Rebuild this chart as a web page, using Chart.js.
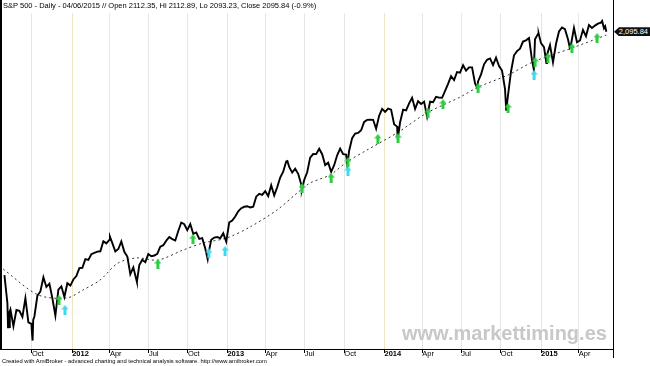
<!DOCTYPE html>
<html><head><meta charset="utf-8">
<script src="https://cdn.jsdelivr.net/npm/chart.js@4.4.1/dist/chart.umd.min.js"></script>
<style>
html,body{margin:0;padding:0;background:#fff;}
#wrap{position:relative;width:650px;height:366px;overflow:hidden;background:#fff;}
canvas{position:absolute;left:0;top:0;}
.t{position:absolute;white-space:nowrap;font-family:"Liberation Sans",Arial,sans-serif;color:#000;line-height:1;}
#lbl{position:absolute;left:614px;width:36px;height:9px;background:#111;color:#fff;font-family:"Liberation Sans",Arial,sans-serif;font-size:7.5px;line-height:9px;text-align:right;padding-right:2px;box-sizing:border-box;clip-path:polygon(0 50%,5px 0,100% 0,100% 100%,5px 100%);}
</style></head><body>
<div id="wrap">
<canvas id="c" width="650" height="366"></canvas>
<div class="t" id="title" style="left:3px;top:2px;font-size:7.5px;">S&amp;P 500 - Daily - 04/06/2015 // Open 2112.35, Hi 2112.89, Lo 2093.23, Close 2095.84 (-0.9%)</div>
<div class="t" id="wm" style="left:402px;top:323px;font-size:20px;font-weight:bold;color:#c8c8c8;">www.markettiming.es</div>
<div class="t" id="foot" style="left:2px;top:359px;font-size:5.8px;">Created with AmiBroker - advanced charting and technical analysis software. http://www.amibroker.com</div>
<div id="lbl">2,095.84</div>
</div>
<script>
// Weekly closes (index = week number, week 0 = week ending 29 Jul 2011)
const weeklyClose = [
1292.3,1199.4,1178.8,1123.5,1176.8,1174.0,1154.2,1216.0,1136.4,1131.4,
1155.5,1224.6,1238.3,1285.1,1253.2,1263.9,1215.7,1158.7,1244.3,1255.2,
1219.7,1265.3,1257.6,1277.8,1289.1,1315.4,1316.3,1344.9,1342.6,1361.2,
1365.7,1369.6,1370.9,1404.2,1397.1,1408.5,1398.1,1370.3,1378.5,1403.4,
1369.1,1353.4,1295.2,1317.8,1278.0,1325.7,1342.8,1335.0,1362.2,1354.7,
1356.8,1362.7,1386.0,1391.0,1405.9,1418.2,1411.1,1406.6,1437.9,1465.8,
1460.2,1440.7,1460.9,1428.6,1433.2,1411.9,1414.2,1379.9,1359.9,1409.2,
1416.2,1418.1,1413.6,1430.2,1402.4,1466.5,1472.1,1486.0,1503.0,1513.2,
1517.9,1519.8,1515.6,1518.2,1551.2,1560.7,1556.9,1569.2,1553.3,1588.9,
1555.3,1582.2,1614.4,1633.7,1667.5,1649.6,1630.7,1643.4,1626.7,1592.4,
1606.3,1631.9,1680.2,1692.1,1691.7,1709.7,1691.4,1655.8,1663.5,1633.0,
1655.2,1688.0,1709.9,1691.8,1690.5,1703.2,1744.5,1759.8,1761.6,1770.6,
1798.2,1804.8,1805.8,1805.1,1775.3,1818.3,1841.4,1831.4,1842.4,1838.7,
1790.3,1782.6,1797.0,1838.6,1836.3,1859.5,1878.0,1841.1,1866.5,1857.6,
1865.1,1815.7,1864.9,1863.4,1881.1,1878.5,1877.9,1900.5,1923.6,1949.4,
1936.2,1962.9,1961.0,1985.4,1967.6,1978.2,1978.3,1925.2,1931.6,1955.1,
1988.4,2003.4,2007.7,1985.5,2010.4,1982.9,1967.9,1906.1,1886.8,1964.6,
2018.1,2031.9,2039.8,2063.5,2067.6,2075.4,2002.3,2070.7,2088.8,2058.2,
2044.8,2019.4,2051.8,1995.0,2055.5,2097.0,2110.3,2104.5,2071.3,2053.4,
2108.1,2061.0,2067.0,2102.1,2081.2,2117.7,2108.3,2116.1,2122.7,2126.1,
2107.4
];
// Intraweek turning points (week position, price)
const extraWeek  = [-0.4, 1.2, 1.4, 1.6, 1.8, 9.2, 9.4, 9.6, 35.2, 44.2, 67.8, 94.4, 99.2, 114.4, 131.2, 157.8, 167.4, 176.6, 178.2, 180.8, 188.6, 199.4, 200.4, 200.8];
const extraPrice = [1312, 1119.5, 1172.5, 1120.8, 1172.6, 1099.2, 1076, 1144, 1419, 1270, 1345, 1669, 1573, 1655, 1741, 1909, 1835, 1972, 2090.6, 1992.7, 2044.2, 2131.7, 2114.1, 2095.84];
// Moving average (dashed)
const maWeek  = [-0.4, 11.2, 20.9, 26.2, 31.9, 37.9, 44.2, 51.2, 59.6, 66.2, 74.2, 81.9, 90.9, 97.6, 101.9, 108.6, 114.3, 120.9, 131.0, 141.0, 152.0, 158.0, 168.0, 176.3, 189.3, 200.8];
const maValue = [1312, 1227, 1217, 1243, 1276, 1332, 1349, 1342, 1375, 1398, 1415, 1451, 1507, 1563, 1596, 1623, 1666, 1705, 1762, 1828, 1880, 1913, 1953, 1996, 2042, 2085];
// Signal arrows
const greenWeek  = [18.2, 51.2, 62.9, 99.3, 109.0, 114.6, 124.6, 131.3, 141.3, 146.3, 158.0, 168.0, 177.0, 181.3, 189.3, 197.7];
const greenPrice = [1210, 1329, 1411, 1580, 1613, 1666, 1742, 1745, 1828, 1857, 1910, 1844, 1996, 2009, 2042, 2075];
const cyanWeek   = [20.2, 68.2, 73.6, 114.6, 176.7];
const cyanPrice  = [1177, 1365, 1372, 1636, 1953];
// Axis ticks
const tickWeek   = [9.2, 22.6, 35.2, 48.2, 61.2, 74.4, 87.2, 100.2, 113.4, 126.8, 139.4, 152.4, 165.6, 179.0, 191.6];
const tickLabels = ['Oct','2012','Apr','Jul','Oct','2013','Apr','Jul','Oct','2014','Apr','Jul','Oct','2015','Apr'];
const lastClose = 2095.84;

const pricePts = weeklyClose.map((v,i)=>({x:i,y:v}))
  .concat(extraWeek.map((w,i)=>({x:w,y:extraPrice[i]})))
  .sort((a,b)=>a.x-b.x);
const maPts = maWeek.map((w,i)=>({x:w,y:maValue[i]}));
const greenPts = greenWeek.map((w,i)=>({x:w,y:greenPrice[i]}));
const cyanPts = cyanWeek.map((w,i)=>({x:w,y:cyanPrice[i]}));

function arrowImg(color){
  const c=document.createElement('canvas'); c.width=7; c.height=10;
  const g=c.getContext('2d'); g.fillStyle=color;
  g.beginPath(); g.moveTo(3.5,0); g.lineTo(7,4.5); g.lineTo(5,4.5); g.lineTo(5,10); g.lineTo(2,10); g.lineTo(2,4.5); g.lineTo(0,4.5); g.closePath(); g.fill();
  return c;
}
const isYear = i => /^\d/.test(tickLabels[i] || '');

const frame = {
  id:'frame',
  afterDraw(chart){
    const ctx=chart.ctx, a=chart.chartArea;
    ctx.save(); ctx.strokeStyle='#000';
    ctx.lineWidth=1; ctx.beginPath(); ctx.moveTo(0,a.bottom+0.5); ctx.lineTo(a.right,a.bottom+0.5); ctx.stroke();
    ctx.lineWidth=2; ctx.beginPath(); ctx.moveTo(1,0); ctx.lineTo(1,a.bottom); ctx.stroke();
    ctx.lineWidth=1; ctx.beginPath(); ctx.moveTo(a.right+0.5,0); ctx.lineTo(a.right+0.5,a.bottom+9); ctx.stroke();
    ctx.restore();
  }
};

const chart = new Chart(document.getElementById('c'), {
  type:'scatter',
  data:{datasets:[
    {data:greenPts, pointStyle:arrowImg('#2ecc40'), pointRadius:5, order:0, clip:false},
    {data:cyanPts, pointStyle:arrowImg('#3fd9ee'), pointRadius:5, order:0, clip:false},
    {data:pricePts, showLine:true, borderColor:'#000', borderWidth:1.9, pointRadius:0, tension:0, order:1, clip:false},
    {data:maPts, showLine:true, borderColor:'#333', borderWidth:1, borderDash:[2,3], pointRadius:0, tension:0.3, order:2, clip:false}
  ]},
  options:{
    responsive:false, animation:false, events:[],
    layout:{padding:{left:2,right:37,top:13,bottom:0}},
    plugins:{legend:{display:false},tooltip:{enabled:false}},
    scales:{
      x:{type:'linear', min:-0.8, max:203.0,
        afterBuildTicks:(s)=>{ s.ticks = tickWeek.map(v=>({value:v})); },
        afterFit:(s)=>{ s.height=17; },
        grid:{color:(c)=>isYear(c.index)?'#ece5bf':'#e6e6e6', tickColor:'#000', tickLength:4, lineWidth:1},
        border:{display:true,color:'#000',width:1},
        ticks:{autoSkip:false, maxRotation:0, align:'start', padding:-4, color:'#000',
          font:(c)=>({family:'"Liberation Sans", Arial, sans-serif', size:7.5, weight:isYear(c.index)?'bold':'normal'}),
          callback:(v,i)=>tickLabels[i]}
      },
      y:{display:false, min:1048.2, max:2157.8}
    }
  },
  plugins:[frame]
});
// calibrate the time scale so Oct 2011 sits at x=32 px and Jan 2015 at x=541 px
(function(){
  const s = chart.scales.x;
  const L = s.getPixelForValue(s.min), R = s.getPixelForValue(s.max);
  const k = (541-32)/(tickWeek[13]-tickWeek[0]);
  const mn = tickWeek[0] - (32 - L)/k;
  chart.options.scales.x.min = mn;
  chart.options.scales.x.max = mn + (R-L)/k;
  chart.update();
})();
const yPix = chart.scales.y.getPixelForValue(lastClose);
document.getElementById('lbl').style.top = (yPix-4.5)+'px';
</script>
</body></html>
